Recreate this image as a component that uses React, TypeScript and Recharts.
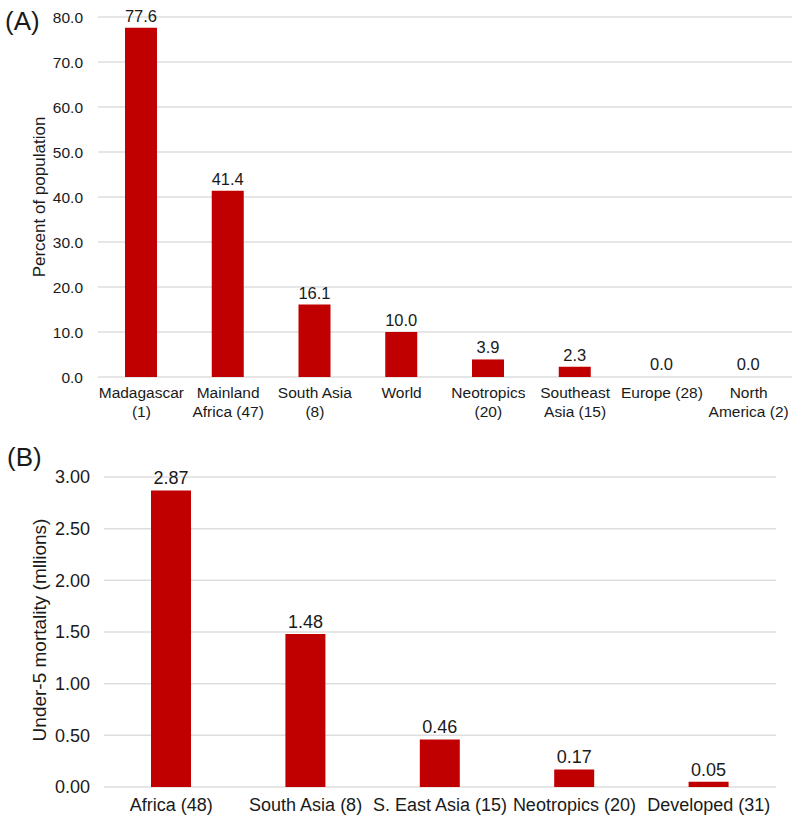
import React from "react"
import { BarChart, Bar, XAxis, YAxis, CartesianGrid, LabelList, Rectangle } from "recharts"

// panel A: share of population
const regionsA = [
  "Madagascar\n(1)",
  "Mainland\nAfrica (47)",
  "South Asia\n(8)",
  "World",
  "Neotropics\n(20)",
  "Southeast\nAsia (15)",
  "Europe (28)",
  "North\nAmerica (2)",
]
const percentA = [77.6, 41.4, 16.1, 10.0, 3.9, 2.3, 0.0, 0.0]
const ticksA = [0, 10, 20, 30, 40, 50, 60, 70, 80]

// panel B: under-5 mortality
const regionsB = ["Africa (48)", "South Asia (8)", "S. East Asia (15)", "Neotropics (20)", "Developed (31)"]
const mortalityB = [2.87, 1.48, 0.46, 0.17, 0.05]
const ticksB = [0, 0.5, 1, 1.5, 2, 2.5, 3]

const dataA = regionsA.map((name, i) => ({ name, value: percentA[i] }))
const dataB = regionsB.map((name, i) => ({ name, value: mortalityB[i] }))

const FONT = "'Liberation Sans', Arial, sans-serif"
const RED = "#c00000"
const TEXT = "#1a1a1a"
const GRID = "#dedede"

const MultiLineTick = (props: any) => {
  const { x, y, payload } = props
  const lines = String(payload.value).split("\n")
  return (
    <text x={x} y={y} textAnchor="middle" fill={TEXT} fontSize={15.5} fontFamily={FONT}>
      {lines.map((l, i) => (
        <tspan key={i} x={x} dy={i === 0 ? 11 : 19}>
          {l}
        </tspan>
      ))}
    </text>
  )
}

// zero values keep their label but draw no bar
const HideZero = (props: any) => {
  if (!props.payload || props.payload.value === 0) return <g />
  return <Rectangle {...props} />
}

const panelLetter: React.CSSProperties = {
  position: "absolute",
  fontFamily: FONT,
  fontSize: 26,
  color: TEXT,
  lineHeight: "26px",
}

const axisTitle = (cx: number, cy: number, size: number): React.CSSProperties => ({
  position: "absolute",
  left: cx,
  top: cy,
  transform: "translate(-50%, -50%) rotate(-90deg)",
  whiteSpace: "nowrap",
  fontFamily: FONT,
  fontSize: size,
  color: TEXT,
  lineHeight: `${size}px`,
})

export default function App() {
  return (
    <div style={{ position: "absolute", left: 0, top: 0, width: 797, height: 824, background: "#fff" }}>
      <div style={{ position: "absolute", left: 0, top: 0 }}>
        <BarChart width={797} height={430} data={dataA} margin={{ top: 17, right: 5, left: 0, bottom: 0 }}>
          <CartesianGrid vertical={false} stroke={GRID} strokeWidth={1.5} />
          <XAxis
            dataKey="name"
            axisLine={false}
            tickLine={false}
            interval={0}
            height={53}
            tickMargin={4}
            tick={<MultiLineTick />}
          />
          <YAxis
            width={98}
            domain={[0, 80]}
            ticks={ticksA}
            axisLine={false}
            tickLine={false}
            tickMargin={9}
            tickFormatter={(v: number) => v.toFixed(1)}
            tick={{ fill: TEXT, fontSize: 15.5, fontFamily: FONT }}
          />
          <Bar dataKey="value" fill={RED} barSize={32} minPointSize={1} shape={HideZero} isAnimationActive={false}>
            <LabelList
              dataKey="value"
              position="top"
              offset={6}
              formatter={(v: any) => Number(v).toFixed(1)}
              style={{ fill: TEXT, fontSize: 16.5, fontFamily: FONT }}
            />
          </Bar>
        </BarChart>
      </div>

      <div style={{ position: "absolute", left: 0, top: 440 }}>
        <BarChart width={797} height={384} data={dataB} margin={{ top: 37, right: 21, left: 0, bottom: 0 }}>
          <CartesianGrid vertical={false} stroke={GRID} strokeWidth={1.5} />
          <XAxis
            dataKey="name"
            axisLine={false}
            tickLine={false}
            interval={0}
            height={37}
            tickMargin={5}
            tick={{ fill: TEXT, fontSize: 18, fontFamily: FONT }}
          />
          <YAxis
            width={104}
            domain={[0, 3]}
            ticks={ticksB}
            axisLine={false}
            tickLine={false}
            tickMargin={8}
            tickFormatter={(v: number) => v.toFixed(2)}
            tick={{ fill: TEXT, fontSize: 18, fontFamily: FONT }}
          />
          <Bar dataKey="value" fill={RED} barSize={40} isAnimationActive={false}>
            <LabelList
              dataKey="value"
              position="top"
              offset={6}
              formatter={(v: any) => Number(v).toFixed(2)}
              style={{ fill: TEXT, fontSize: 18, fontFamily: FONT }}
            />
          </Bar>
        </BarChart>
      </div>

      <div style={{ ...panelLetter, left: 5, top: 8 }}>(A)</div>
      <div style={{ ...panelLetter, left: 7, top: 444 }}>(B)</div>
      <div style={axisTitle(39, 197, 17)}>Percent of population</div>
      <div style={axisTitle(39, 630, 19)}>Under-5 mortality (mllions)</div>
    </div>
  )
}
